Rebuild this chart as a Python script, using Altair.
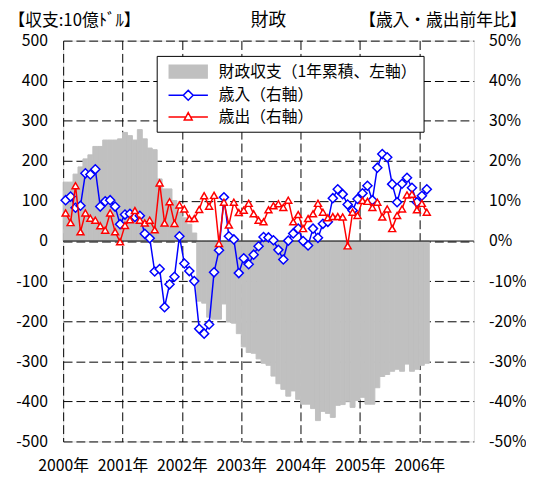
import altair as alt
import pandas as pd

# ---------------- data ----------------
months = [d.strftime("%Y-%m") for d in pd.date_range("2000-01-01", periods=74, freq="MS")]

balance = [147, 147, 167, 185, 205, 215, 236, 236, 252, 252,
           252, 255, 271, 263, 252, 278, 255, 232, 228, 155,
           130, 130, 101, 72, 58, 42, 20, -150, -155, -190,
           -195, -195, -157, -202, -205, -231, -264, -278, -280, -294,
           -305, -310, -337, -356, -370, -387, -374, -395, -407, -407,
           -418, -448, -425, -430, -440, -410, -408, -400, -415, -398,
           -390, -407, -407, -366, -338, -333, -325, -320, -325, -307,
           -325, -320, -310, -305]

revenue = [10.2, 11.1, 8.3, 8.8, 16.9, 16.6, 17.9, 8.6, 9.9, 10.2,
           8.6, 4.2, 6.6, 6.8, 6.0, 6.3, 1.8, 0.7, -7.6, -7.0,
           -16.5, -10.8, -8.9, 1.2, -5.6, -7.5, -10.0, -21.9, -23.1, -20.8,
           -7.8, -2.3, 10.9, 1.2, 0.4, -8.0, -4.3, -5.8, -3.4, -1.3,
           1.0, 0.9, 0.2, -2.2, -4.6, 0.1, 1.9, 3.1, 0.0, -1.1,
           3.1, 0.8, 4.3, 4.8, 10.7, 12.9, 11.7, 9.1, 7.6, 10.5,
           11.9, 13.8, 10.2, 18.3, 21.7, 20.9, 14.2, 9.7, 14.3, 15.8,
           13.3, 9.7, 11.3, 12.9]

outlay = [7.0, 4.6, 13.8, 2.3, 7.0, 5.7, 5.2, 3.8, 2.7, 7.0,
          2.3, -0.2, 3.9, 5.3, 7.6, 5.2, 4.5, 5.2, 2.8, 14.5,
          4.5, 9.8, 4.4, 9.0, 8.0, 5.6, 5.6, 7.9, 11.3, 8.7,
          11.4, -0.6, 9.7, 4.0, 9.7, 7.1, 7.7, 9.4, 6.8, 5.2,
          4.8, 7.8, 8.8, 9.3, 8.4, 10.2, 4.8, 6.6, 3.1, 5.6,
          6.8, 9.4, 7.2, 5.8, 6.1, 6.1, 6.0, -1.2, 7.2, 6.4,
          10.1, 9.9, 8.4, 9.7, 6.0, 8.0, 3.1, 6.4, 8.0, 11.5,
          11.7, 7.8, 9.4, 7.2]

year_labels = ["2000年", "2001年", "2002年", "2003年", "2004年", "2005年", "2006年"]
series_names = ["財政収支（1年累積、左軸）", "歳入（右軸）", "歳出（右軸）"]
series_colors = ["#c0c0c0", "#0000ff", "#ff0000"]
left_title = "【収支:10億ﾄﾞﾙ】"
right_title = "【歳入・歳出前年比】"
chart_title = "財政"

FONT = "Noto Sans CJK JP"
n = len(months)

bar_df = pd.DataFrame({
    "月": months,
    "x0": list(range(n)),
    "x1": [i + 1 for i in range(n)],
    "収支": balance,
})
line_df = pd.DataFrame({
    "月": months,
    "xm": [i + 0.5 for i in range(n)],
    "歳入": revenue,
    "歳出": outlay,
})
zero_df = pd.DataFrame({"z": [0]})
legend_df = pd.DataFrame({"系列": series_names})

# legend swatch glyphs (custom symbol paths; 1 unit = 8 px at symbolSize 256)
swatch_rect = "".join("M-2.5,%.3fL2.5,%.3f" % (y / 100, y / 100) for y in range(-80, 81, 16))
swatch_diamond = "M-2.5,0L-0.625,0M0.625,0L2.5,0M0,-0.625L0.625,0L0,0.625L-0.625,0Z"
swatch_triangle = "M-2.5,0L-0.3,0M0.3,0L2.5,0M0,-0.55L0.5,0.375L-0.5,0.375Z"

# ---------------- scales & axes ----------------
x_scale = alt.Scale(domain=[0, 83], nice=False, zero=False)
label_arr = "[" + ",".join("'" + s + "'" for s in year_labels) + "]"
x_axis = alt.Axis(
    values=[12 * k for k in range(len(year_labels))],
    labelExpr=label_arr + "[round(datum.value/12)]",
    grid=True, gridDash=[9, 4], gridColor="black", gridWidth=1, gridOpacity=1,
    ticks=False, domain=False, labelFontSize=16, labelPadding=17,
    labelColor="black", labelFont=FONT, labelFlush=False, labelOverlap=False,
    title=None,
)
left_scale = alt.Scale(domain=[-500, 500], nice=False, zero=False)
right_scale = alt.Scale(domain=[-50, 50], nice=False, zero=False)

left_axis = alt.Axis(
    values=list(range(-500, 501, 100)), labelExpr="datum.value + ''",
    grid=True, gridDash=[9, 4], gridColor="black", gridWidth=1, gridOpacity=1,
    ticks=False, domain=False, labelFontSize=16, labelPadding=16,
    labelColor="black", labelFont=FONT, labelFlush=False, labelOverlap=False,
    title=left_title, titleAngle=0, titleAlign="left", titleBaseline="middle",
    titleX=-56, titleY=-20, titleFontSize=17, titleFontWeight="normal",
    titleFont=FONT, titleColor="black",
)
right_axis = alt.Axis(
    orient="right", values=list(range(-50, 51, 10)), labelExpr="datum.value + '%'",
    grid=False, ticks=False, domain=False, labelFontSize=16, labelAlign="left",
    labelPadding=15, labelColor="black", labelFont=FONT, labelFlush=False,
    labelOverlap=False,
    title=right_title, titleAngle=0, titleAlign="right", titleBaseline="middle",
    titleX=53, titleY=-20, titleFontSize=17, titleFontWeight="normal",
    titleFont=FONT, titleColor="black",
)

legend = alt.Legend(
    title=None, orient="none", legendX=95, legendY=15.5, direction="vertical",
    fillColor="white", strokeColor="black", padding=7, symbolSize=256,
    symbolOffset=16, labelFontSize=16, labelFont=FONT, labelColor="black",
    labelOffset=22, labelLimit=400, rowPadding=5, symbolStrokeWidth=1.5,
    symbolOpacity=1,
)

bars = alt.Chart(bar_df).mark_bar(
    color="#c0c0c0", opacity=1, stroke="#c0c0c0", strokeWidth=1
).encode(
    x=alt.X("x0:Q", scale=x_scale, axis=x_axis),
    x2="x1:Q",
    y=alt.Y("収支:Q", scale=left_scale, axis=left_axis),
    y2=alt.datum(0),
)

zero_rule = alt.Chart(zero_df).mark_rule(color="black", strokeWidth=1).encode(
    y=alt.Y("z:Q", scale=left_scale, axis=None),
)

rev_line = alt.Chart(line_df).mark_line(
    color="#0000ff", strokeWidth=1.5,
    point=alt.OverlayMarkDef(shape="diamond", size=85, filled=True, fill="white",
                             stroke="#0000ff", strokeWidth=1.5),
).encode(
    x=alt.X("xm:Q", scale=x_scale, axis=x_axis),
    y=alt.Y("歳入:Q", scale=right_scale, axis=right_axis),
)

out_line = alt.Chart(line_df).mark_line(
    color="#ff0000", strokeWidth=1.5,
    point=alt.OverlayMarkDef(shape="triangle-up", size=50, filled=True, fill="white",
                             stroke="#ff0000", strokeWidth=1.5),
).encode(
    x=alt.X("xm:Q", scale=x_scale, axis=x_axis),
    y=alt.Y("歳出:Q", scale=right_scale, axis=None),
)

# legend carrier: no rows survive the filter, so it only contributes the legend
legend_layer = alt.Chart(legend_df).mark_point(filled=False, strokeWidth=1.5).encode(
    color=alt.Color("系列:N", scale=alt.Scale(domain=series_names, range=series_colors),
                    legend=legend),
    shape=alt.Shape("系列:N", scale=alt.Scale(domain=series_names,
                                              range=[swatch_rect, swatch_diamond, swatch_triangle]),
                    legend=legend),
).transform_filter("false")

chart = alt.layer(bars, zero_rule, rev_line, out_line, legend_layer).resolve_scale(
    y="independent"
).properties(
    width=417, height=407,
    padding={"left": 56, "top": 29.5, "right": 53, "bottom": 35},
    autosize="none",
    title=alt.TitleParams(chart_title, anchor="middle", fontSize=18, fontWeight="normal",
                          font=FONT, offset=10, dy=28, frame="group", color="black"),
).configure_view(stroke="black", strokeWidth=1).configure(font=FONT)

chart.save("out.html", embed_options={"renderer": "svg", "actions": False})
